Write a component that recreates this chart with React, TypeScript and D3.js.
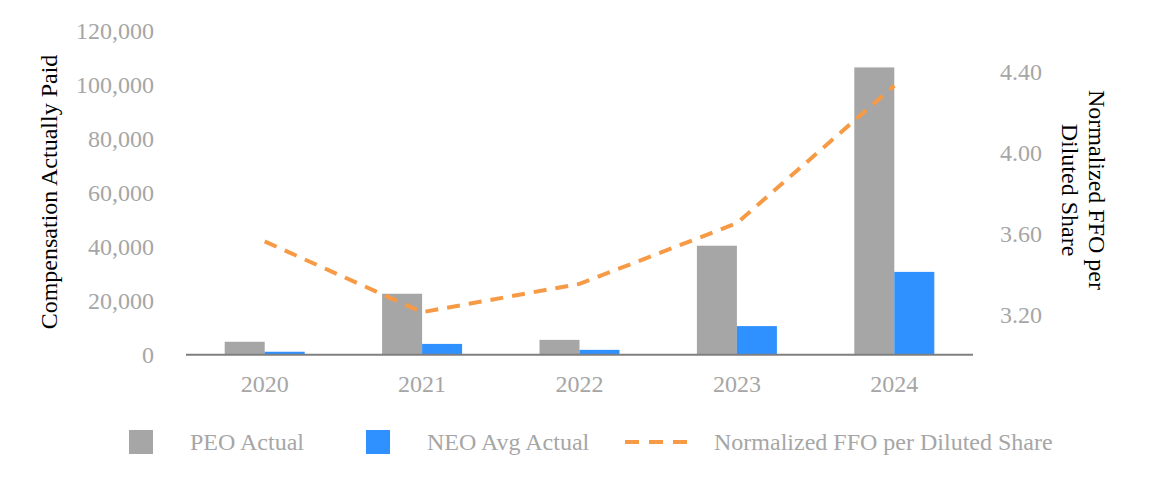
import React from "react";
import * as d3 from "d3";

const years = ["2020", "2021", "2022", "2023", "2024"];
const peoActual = [4800, 22600, 5500, 40400, 106500];
const neoAvgActual = [1100, 4000, 1800, 10600, 30700];
const ffoPerShare = [3.56, 3.21, 3.35, 3.65, 4.33];
const leftTicks = [0, 20000, 40000, 60000, 80000, 100000, 120000];
const rightTicks = [3.2, 3.6, 4.0, 4.4];

const W = 1152;
const H = 490;
const FONT = "'Liberation Serif', 'Times New Roman', serif";
const GRAY_TEXT = "#A6A6A6";
const PEO_COLOR = "#A6A6A6";
const NEO_COLOR = "#2F90FF";
const LINE_COLOR = "#F79A45";
const FS = 24;

export default function App() {
  const left = 186, right = 973, top = 31, bottom = 354.7;
  const x = d3.scaleBand<string>().domain(years).range([left, right]).padding(0);
  const yL = d3.scaleLinear().domain([0, 120000]).range([bottom, top]);
  const yR = d3.scaleLinear().domain([3.0, 4.6]).range([bottom, top]);
  const barW = 40;
  const fmtL = d3.format(",");
  const fmtR = d3.format(".2f");
  const line = d3
    .line<number>()
    .x((_, i) => (x(years[i]) as number) + x.bandwidth() / 2)
    .y((d) => yR(d));

  return (
    <svg
      width={W}
      height={H}
      style={{ position: "absolute", left: 0, top: 0, background: "#fff" }}
      fontFamily={FONT}
    >
      <rect width={W} height={H} fill="#fff" />
      {years.map((yr, i) => {
        const cx = (x(yr) as number) + x.bandwidth() / 2;
        return (
          <g key={yr}>
            <rect x={cx - barW} y={yL(peoActual[i])} width={barW} height={bottom - yL(peoActual[i])} fill={PEO_COLOR} />
            <rect x={cx} y={yL(neoAvgActual[i])} width={barW} height={bottom - yL(neoAvgActual[i])} fill={NEO_COLOR} />
          </g>
        );
      })}
      <line x1={left} x2={right} y1={bottom} y2={bottom} stroke="#7F7F7F" strokeWidth={2} />
      <path d={line(ffoPerShare) || ""} fill="none" stroke={LINE_COLOR} strokeWidth={4} strokeDasharray="13 9" />
      {leftTicks.map((t) => (
        <text key={t} x={154} y={yL(t)} dy="0.35em" textAnchor="end" fontSize={FS} fill={GRAY_TEXT}>
          {fmtL(t)}
        </text>
      ))}
      {rightTicks.map((t) => (
        <text key={t} x={1000} y={yR(t)} dy="0.35em" textAnchor="start" fontSize={FS} fill={GRAY_TEXT}>
          {fmtR(t)}
        </text>
      ))}
      {years.map((yr) => (
        <text key={yr} x={(x(yr) as number) + x.bandwidth() / 2} y={384} dy="0.35em" textAnchor="middle" fontSize={FS} fill={GRAY_TEXT}>
          {yr}
        </text>
      ))}
      <text transform="translate(49,192) rotate(-90)" textAnchor="middle" dy="0.35em" fontSize={FS} fill="#000">
        Compensation Actually Paid
      </text>
      <text transform="translate(1097,190) rotate(90)" textAnchor="middle" dy="0.35em" fontSize={FS} fill="#000">
        Normalized FFO per
      </text>
      <text transform="translate(1070,190) rotate(90)" textAnchor="middle" dy="0.35em" fontSize={FS} fill="#000">
        Diluted Share
      </text>
      <g fontSize={FS} fill={GRAY_TEXT}>
        <rect x={129} y={430} width={24} height={24} fill={PEO_COLOR} />
        <text x={190} y={442} dy="0.35em">PEO Actual</text>
        <rect x={366} y={430} width={24} height={24} fill={NEO_COLOR} />
        <text x={427} y={442} dy="0.35em">NEO Avg Actual</text>
        <line x1={625} x2={695} y1={442} y2={442} stroke={LINE_COLOR} strokeWidth={4} strokeDasharray="14 10" />
        <text x={714} y={442} dy="0.35em">Normalized FFO per Diluted Share</text>
      </g>
    </svg>
  );
}
